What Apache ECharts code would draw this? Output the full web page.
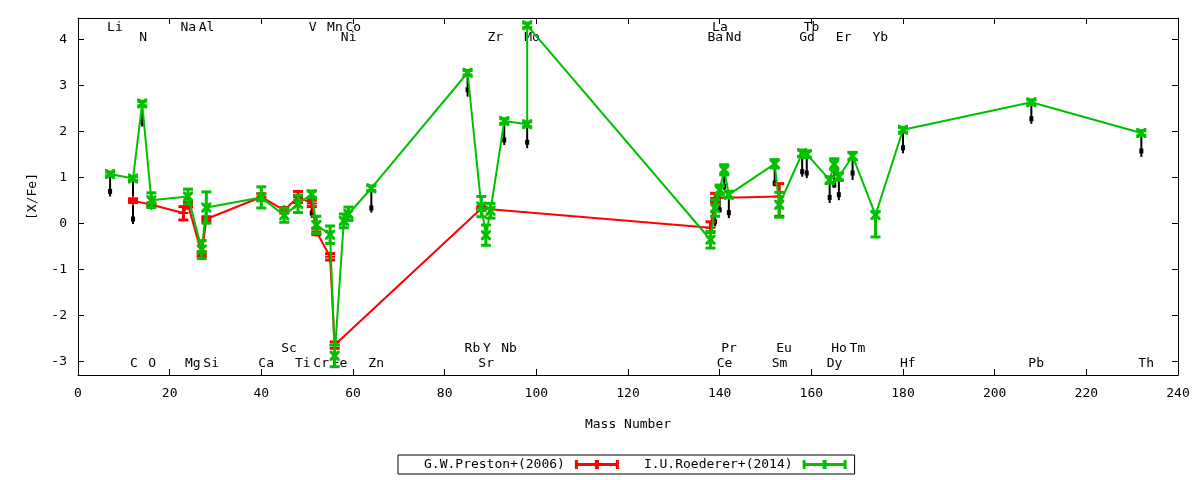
<!DOCTYPE html>
<html><head><meta charset="utf-8">
<script src="https://cdn.jsdelivr.net/npm/echarts@6/dist/echarts.min.js"></script>
<style>html,body{margin:0;padding:0;background:#fff}#c{width:1200px;height:480px}</style>
</head><body><div id="c"></div>
<script>
// ---- tick labels ----
const xTicks = [0,20,40,60,80,100,120,140,160,180,200,220,240];
const yTicks = [-3,-2,-1,0,1,2,3,4];

// ---- I.U.Roederer+(2014) (green) ----
const roedererX  = [7,12,14,16,24,27,28,40,45,48,51,52,55,56,58,59,64,85,88,89,90,93,98,98,138,139,140,141,142,152,153,158,159,164,165,166,169,174,180,208,232];
const roedererY  = [1.07,0.97,2.6,0.5,0.58,-0.57,0.34,0.56,0.17,0.42,0.63,-0.04,-0.25,-2.88,0.05,0.2,0.76,3.27,0.36,-0.26,0.27,2.22,2.15,4.3,-0.36,0.33,0.72,1.16,0.62,1.29,0.4,1.52,1.5,0.94,1.28,1.01,1.46,0.18,2.03,2.63,1.96];
const roedererLo = [1.03,0.93,2.55,0.34,0.41,-0.77,0.0,0.33,0.02,0.23,0.56,-0.22,-0.44,-3.12,-0.1,0.06,0.71,3.22,0.14,-0.48,0.11,2.17,2.1,4.25,-0.54,0.15,0.61,1.05,0.55,1.2,0.13,1.45,1.43,0.87,1.16,0.93,1.38,-0.3,1.98,2.58,1.91];
const roedererHi = [1.11,1.01,2.65,0.66,0.74,-0.38,0.68,0.79,0.33,0.61,0.7,0.15,-0.06,-2.65,0.2,0.35,0.81,3.32,0.58,-0.04,0.43,2.27,2.2,4.35,-0.18,0.51,0.83,1.27,0.69,1.38,0.67,1.59,1.57,1.01,1.4,1.09,1.54,0.25,2.08,2.68,2.01];

// ---- G.W.Preston+(2006) (red) ----
const prestonX  = [12,16,23,24,27,28,40,45,48,51,52,55,56,88,138,139,153];
const prestonY  = [0.49,0.4,0.22,0.4,-0.67,0.09,0.57,0.28,0.57,0.43,-0.18,-0.73,-2.65,0.32,-0.1,0.55,0.58];
const prestonLo = [0.45,0.36,0.07,0.35,-0.72,0.04,0.5,0.22,0.45,0.36,-0.25,-0.8,-2.72,0.28,-0.2,0.45,0.15];
const prestonHi = [0.53,0.44,0.36,0.45,-0.62,0.14,0.64,0.34,0.69,0.5,-0.11,-0.66,-2.58,0.36,0.03,0.65,0.86];

// ---- black drop markers ----
const dropX    = [7,12,14,51,64,85,93,98,139,140,141,142,152,158,159,164,165,166,169,180,208,232];
const dropTop  = [1.07,0.96,2.6,0.63,0.76,3.27,2.22,2.15,0.33,0.72,1.16,0.62,1.29,1.52,1.5,0.94,1.28,1.01,1.46,2.03,2.63,1.96];
const dropMark = [0.69,0.09,2.2,0.22,0.33,2.9,1.81,1.76,0.03,0.29,0.8,0.23,0.87,1.12,1.09,0.56,0.83,0.62,1.09,1.64,2.27,1.57];
const dropLow  = [0.58,-0.02,2.1,0.11,0.23,2.75,1.7,1.63,-0.07,0.25,0.72,0.11,0.8,1.01,0.98,0.44,0.77,0.5,0.94,1.52,2.16,1.44];

// ---- element labels ----
const elemNames = ['Li','Na','Al','V','Mn','Co','La','Tb',
                   'N','Ni','Zr','Mo','Ba','Nd','Gd','Er','Yb',
                   'Sc','Rb','Y','Nb','Pr','Eu','Ho','Tm',
                   'C','O','Mg','Si','Ca','Ti','Cr','Fe','Zn','Sr','Ce','Sm','Dy','Hf','Pb','Th'];
const elemX = [7,23,27,51,55,59,139,159,
               14,58,90,98,138,142,158,166,174,
               45,85,89,93,141,153,165,169,
               12,16,24,28,40,48,52,56,64,88,140,152,164,180,208,232];
const elemRowY = [4.25,4.25,4.25,4.25,4.25,4.25,4.25,4.25,
                  4.04,4.04,4.04,4.04,4.04,4.04,4.04,4.04,4.04,
                  -2.73,-2.73,-2.73,-2.73,-2.73,-2.73,-2.73,-2.73,
                  -3.06,-3.06,-3.06,-3.06,-3.06,-3.06,-3.06,-3.06,-3.06,-3.06,-3.06,-3.06,-3.06,-3.06,-3.06,-3.06];

const FONT = 'DejaVu Sans Mono';
const RED = '#ff0000', GREEN = '#00c000';
const plusPath = 'path://M4,0H6V10H4Z M0,4H10V6H0Z';
const crossPath = 'path://M0,0L2.2,0L5,2.8L7.8,0L10,0L10,2.2L7.2,5L10,7.8L10,10L7.8,10L5,7.2L2.2,10L0,10L0,7.8L2.8,5L0,2.2Z';
const legendIcon = 'path://M0,3H44V6H0Z M0,0H3V9H0Z M41,0H44V9H41Z M20,0H24V9H20Z';

function errSeries(xs, lo, hi, color, z) {
  return {
    type: 'custom', z: z, silent: true,
    data: xs.map((x, i) => [x, lo[i], hi[i]]),
    encode: { x: 0, y: [1, 2] },
    renderItem: function (params, api) {
      const a = api.coord([api.value(0), api.value(1)]);
      const b = api.coord([api.value(0), api.value(2)]);
      const st = { stroke: color, lineWidth: 3 };
      const hw = 5;
      return { type: 'group', children: [
        { type: 'line', shape: { x1: a[0], y1: a[1], x2: b[0], y2: b[1] }, style: st },
        { type: 'line', shape: { x1: a[0] - hw, y1: a[1], x2: a[0] + hw, y2: a[1] }, style: st },
        { type: 'line', shape: { x1: b[0] - hw, y1: b[1], x2: b[0] + hw, y2: b[1] }, style: st }
      ]};
    }
  };
}

const axisLineStyle = { show: true, onZero: false, lineStyle: { color: '#000', width: 1 } };
const tickStyle = { show: true, inside: true, length: 6, lineStyle: { color: '#000', width: 1 } };

const option = {
  animation: false,
  backgroundColor: '#fff',
  grid: { left: 78, right: 22, top: 18, bottom: 105, containLabel: false },
  xAxis: [
    { type: 'value', min: 0, max: 240, interval: 20, position: 'bottom',
      axisLine: axisLineStyle, axisTick: tickStyle, splitLine: { show: false },
      axisLabel: { color: '#000', fontFamily: FONT, fontSize: 13, margin: 12 },
      name: 'Mass Number', nameLocation: 'middle', nameGap: 43,
      nameTextStyle: { color: '#000', fontFamily: FONT, fontSize: 13 } },
    { type: 'value', min: 0, max: 240, interval: 20, position: 'top',
      axisLine: axisLineStyle, axisTick: tickStyle, splitLine: { show: false },
      axisLabel: { show: false } }
  ],
  yAxis: [
    { type: 'value', min: -3.3, max: 4.46, position: 'left',
      axisLine: axisLineStyle,
      axisTick: Object.assign({}, tickStyle, { customValues: yTicks }),
      splitLine: { show: false },
      axisLabel: { color: '#000', fontFamily: FONT, fontSize: 13, margin: 11, customValues: yTicks },
      name: '[X/Fe]', nameLocation: 'middle', nameGap: 39, nameRotate: 90,
      nameTextStyle: { color: '#000', fontFamily: FONT, fontSize: 13 } },
    { type: 'value', min: -3.3, max: 4.46, position: 'right',
      axisLine: axisLineStyle,
      axisTick: Object.assign({}, tickStyle, { customValues: yTicks }),
      splitLine: { show: false },
      axisLabel: { show: false } }
  ],
  legend: {
    data: ['G.W.Preston+(2006)', 'I.U.Roederer+(2014)'],
    left: 398, top: 455, orient: 'horizontal', align: 'right',
    itemWidth: 44, itemHeight: 9, itemGap: 25,
    padding: [3, 8, 3, 26],
    borderColor: '#000', borderWidth: 1, borderRadius: 0,
    icon: legendIcon,
    textStyle: { color: '#000', fontFamily: FONT, fontSize: 13, padding: [0, 5, 0, 0] },
    selectedMode: false
  },
  series: [
    { type: 'custom', z: 1, silent: true,
      data: elemX.map((x, i) => [x, elemRowY[i]]),
      encode: { x: 0, y: 1 },
      renderItem: function (params, api) {
        const p = api.coord([api.value(0), api.value(1)]);
        return { type: 'text', x: p[0] - 3, y: p[1],
          style: { text: elemNames[params.dataIndex], fill: '#000',
                   font: '13px "DejaVu Sans Mono"', align: 'left', verticalAlign: 'middle' } };
      } },
    { type: 'custom', z: 2, silent: true,
      data: dropX.map((x, i) => [x, dropTop[i], dropMark[i], dropLow[i]]),
      encode: { x: 0, y: [1, 2, 3] },
      renderItem: function (params, api) {
        const t = api.coord([api.value(0), api.value(1)]);
        const m = api.coord([api.value(0), api.value(2)]);
        const l = api.coord([api.value(0), api.value(3)]);
        return { type: 'group', children: [
          { type: 'line', shape: { x1: t[0], y1: t[1], x2: l[0], y2: l[1] }, style: { stroke: '#000', lineWidth: 2 } },
          { type: 'rect', shape: { x: m[0] - 2, y: m[1] - 2.5, width: 4, height: 5 }, style: { fill: '#000' } }
        ]};
      } },
    errSeries(prestonX, prestonLo, prestonHi, RED, 3),
    { name: 'G.W.Preston+(2006)', type: 'line', z: 4,
      data: prestonX.map((x, i) => [x, prestonY[i]]),
      symbol: plusPath, symbolSize: 10, showAllSymbol: true,
      itemStyle: { color: RED }, lineStyle: { color: RED, width: 2 } },
    errSeries(roedererX, roedererLo, roedererHi, GREEN, 5),
    { name: 'I.U.Roederer+(2014)', type: 'line', z: 6,
      data: roedererX.map((x, i) => [x, roedererY[i]]),
      symbol: crossPath, symbolSize: 10, showAllSymbol: true,
      itemStyle: { color: GREEN }, lineStyle: { color: GREEN, width: 2 } }
  ]
};
const chart = echarts.init(document.getElementById('c'));
chart.setOption(option);
</script></body></html>
